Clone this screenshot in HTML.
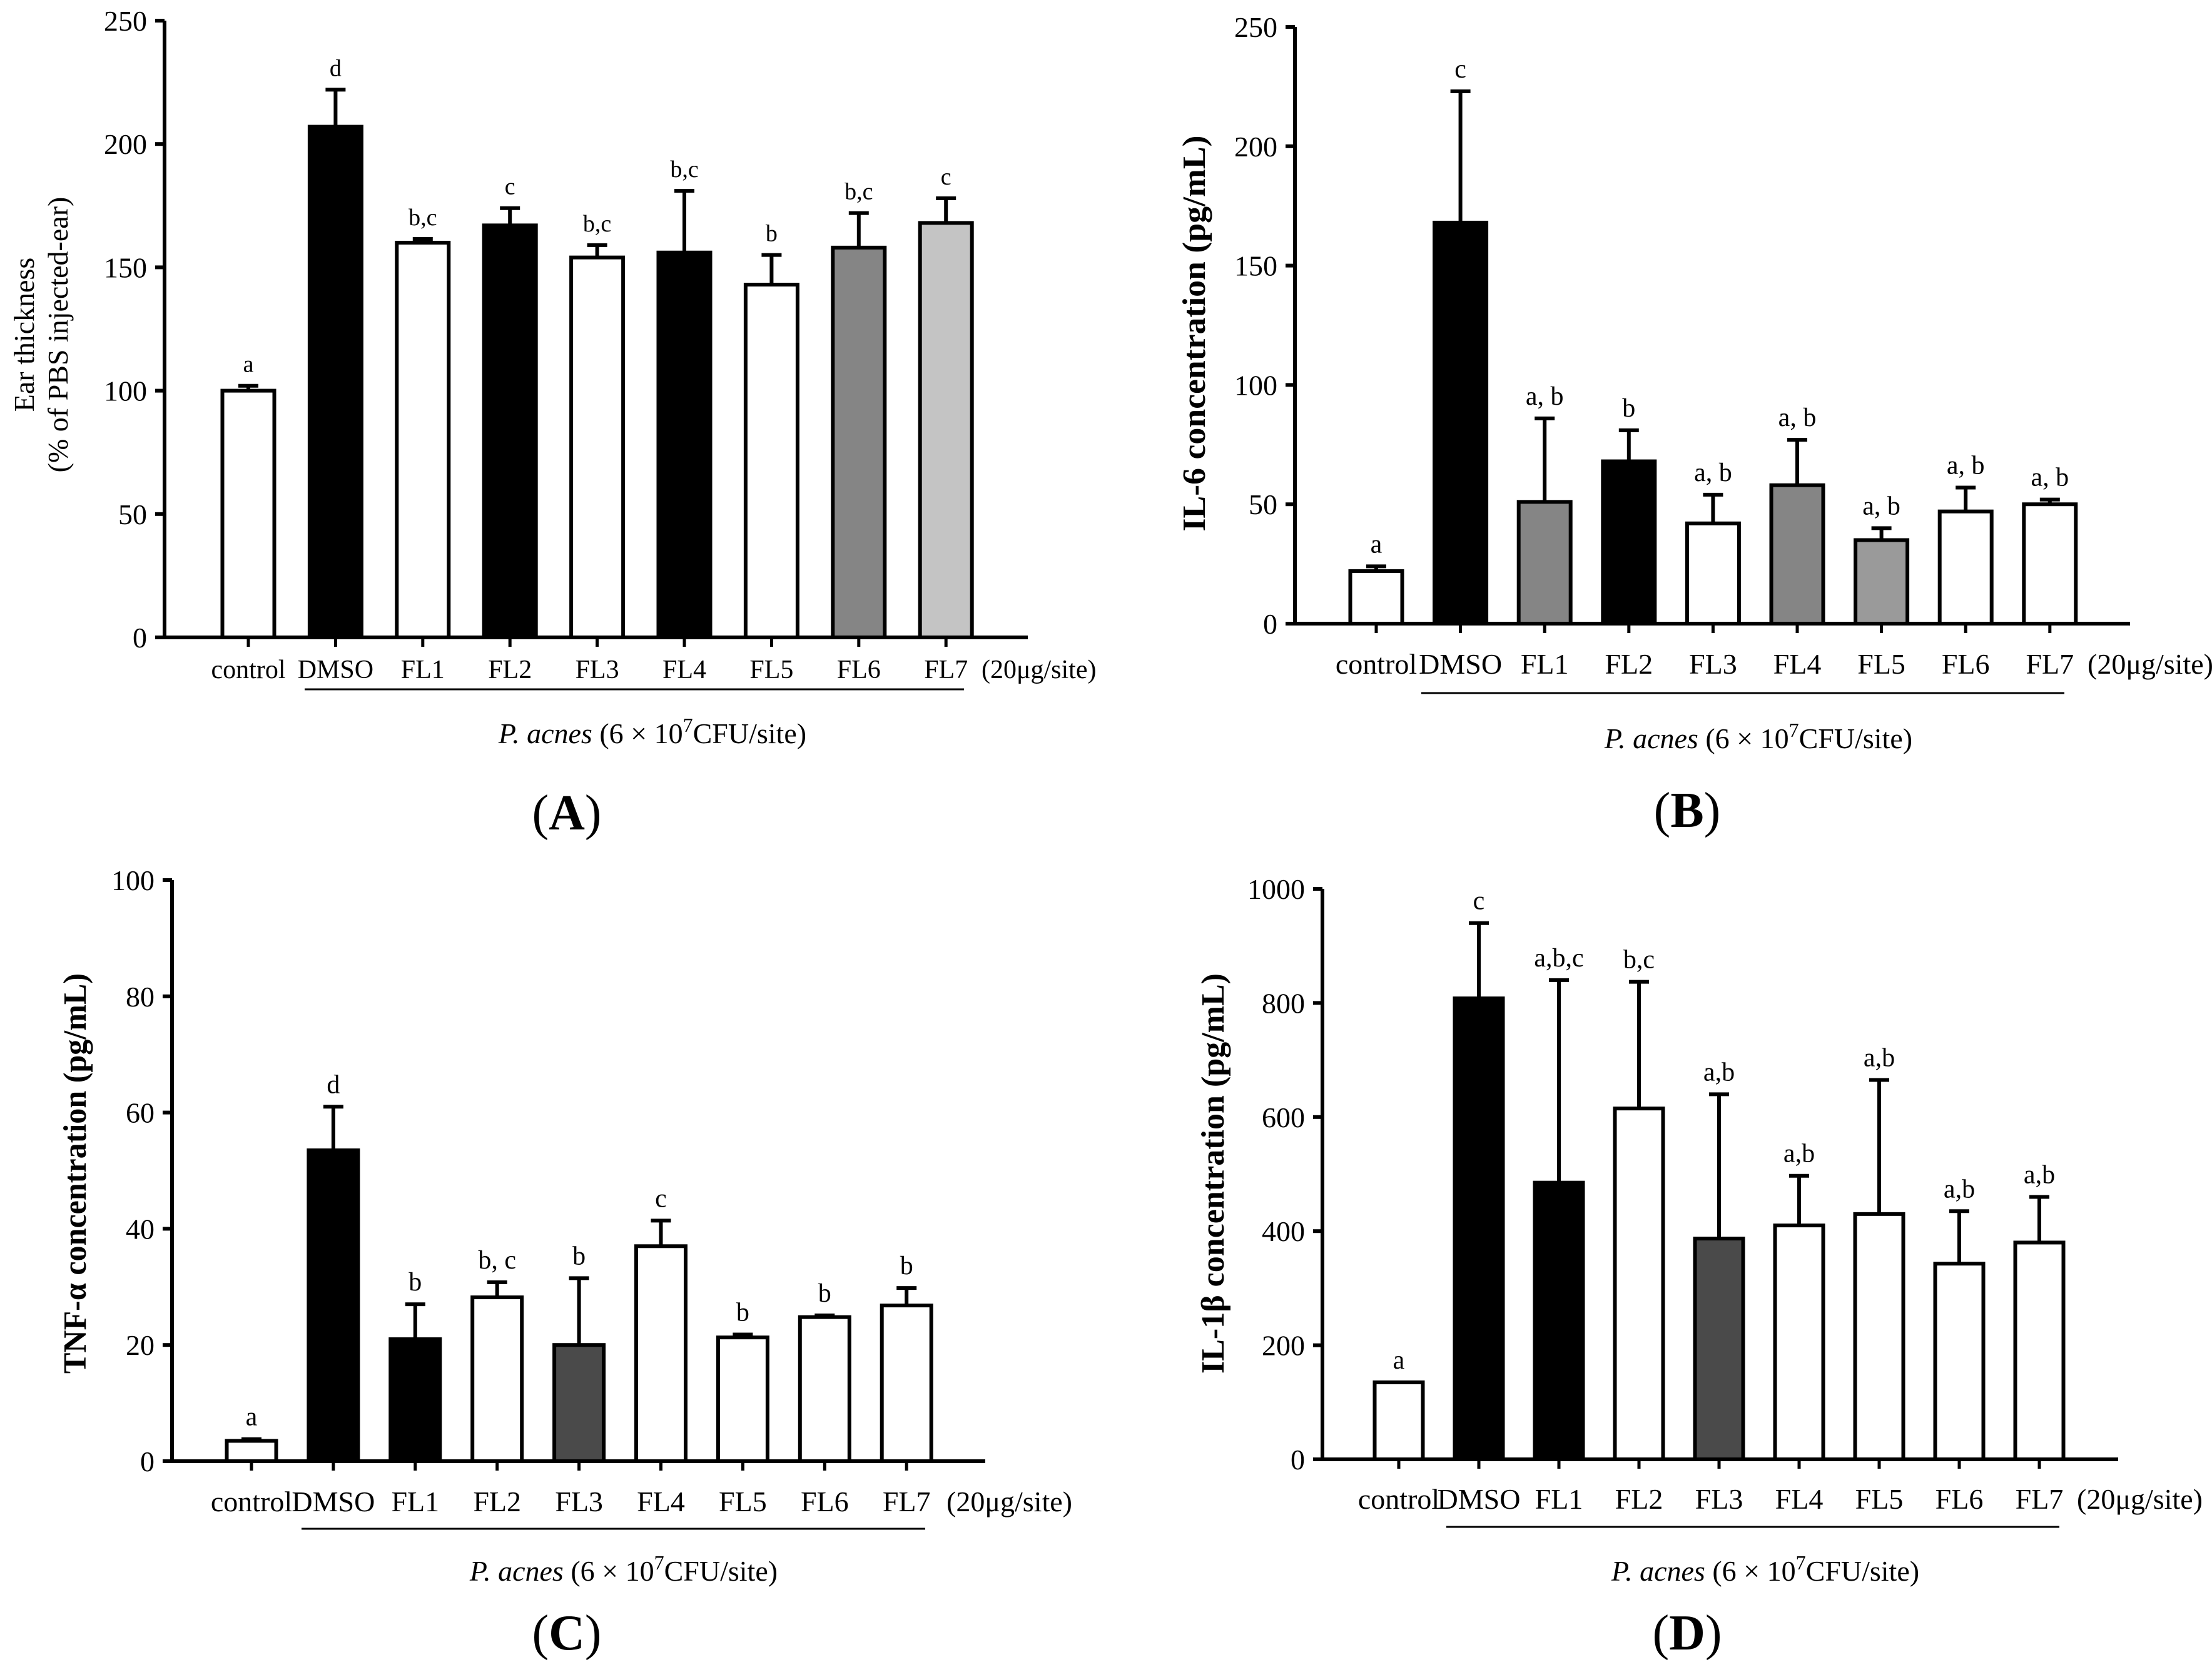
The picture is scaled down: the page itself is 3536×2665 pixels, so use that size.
<!DOCTYPE html>
<html><head><meta charset="utf-8"><style>
html,body{margin:0;padding:0;background:#fff;}
svg{display:block;font-family:"Liberation Serif",serif;}
</style></head>
<body>
<svg id="fig" xmlns="http://www.w3.org/2000/svg" width="3536" height="2665" viewBox="0 0 3536 2665"></svg>
<script>
const categories = ["control","DMSO","FL1","FL2","FL3","FL4","FL5","FL6","FL7"];
const valuesA = [100,207,160,167,154,156,143,158,168];
const errorsA = [2,15,1.5,7,5,25,12,14,10];
const lettersA = ["a","d","b,c","c","b,c","b,c","b","b,c","c"];
const fillsA = ["w","b","w","b","w","b","w","g","l"];
const ticksA = [0,50,100,150,200,250];
const valuesB = [22,168,51,68,42,58,35,47,50];
const errorsB = [2,55,35,13,12,19,5,10,2];
const lettersB = ["a","c","a, b","b","a, b","a, b","a, b","a, b","a, b"];
const fillsB = ["w","b","g","b","w","g","h","w","w"];
const ticksB = [0,50,100,150,200,250];
const valuesC = [3.5,53.5,21,28.2,20,37,21.3,24.8,26.8];
const errorsC = [0.3,7.5,6,2.6,11.5,4.4,0.5,0.3,3];
const lettersC = ["a","d","b","b, c","b","c","b","b","b"];
const fillsC = ["w","b","b","w","d","w","w","w","w"];
const ticksC = [0,20,40,60,80,100];
const valuesD = [135,808,485,615,387,410,430,343,380];
const errorsD = [0,132,355,222,253,87,235,92,80];
const lettersD = ["a","c","a,b,c","b,c","a,b","a,b","a,b","a,b","a,b"];
const fillsD = ["w","b","b","w","d","w","w","w","w"];
const ticksD = [0,200,400,600,800,1000];

const svg = document.getElementById('fig');
const NS = "http://www.w3.org/2000/svg";
function mk(tag, attrs, parent){const e=document.createElementNS(NS,tag);for(const k in attrs)e.setAttribute(k,attrs[k]);(parent||svg).appendChild(e);return e;}
const colorMap={w:"#fff",b:"#000",g:"#858585",l:"#c4c4c4",h:"#9a9a9a",d:"#4a4a4a"};

function panel(p){
  const g=mk('g',{});
  
  
  const ymax=p.ticks[p.ticks.length-1];
  const y=v=>p.y0-(v/ymax)*(p.y0-p.ytop);
  const x=i=>p.c0+i*p.step;
  for(let i=0;i<categories.length;i++){
    const v=p.values[i], e=p.errors[i];
    if(e>0){
      const eb=mk('path',{d:`M${x(i)} ${y(v)} V${y(v+e)} M${x(i)-16} ${y(v+e)} H${x(i)+16}`,stroke:"#000","stroke-width":6,fill:"none"},g);
      
      
    }
    const r=mk('rect',{x:x(i)-p.bw/2,y:y(v),width:p.bw,height:p.y0-y(v),fill:colorMap[p.fills[i]],stroke:"#000","stroke-width":6},g);
    
    
    const t=mk('text',{x:x(i),y:y(v+e)-22,"font-size":p.letFs,"text-anchor":"middle"},g);
    t.textContent=p.letters[i];
    
    
    mk('line',{x1:x(i),x2:x(i),y1:p.y0,y2:p.y0+15,stroke:"#000","stroke-width":5},g);
    const cl=mk('text',{x:x(i),y:p.labY+16,"font-size":p.labFs,"text-anchor":"middle"},g);
    cl.textContent=categories[i];
    
    
  }
  const ya=mk('line',{x1:p.ax,x2:p.ax,y1:p.ytop,y2:p.y0,stroke:"#000","stroke-width":6},g);
  
  
  const xa=mk('line',{x1:p.xs,x2:p.xe,y1:p.y0,y2:p.y0,stroke:"#000","stroke-width":6},g);
  
  
  for(const tv of p.ticks){
    mk('line',{x1:p.ax-15,x2:p.ax,y1:y(tv),y2:y(tv),stroke:"#000","stroke-width":6},g);
    const tl=mk('text',{x:p.ax-28,y:y(tv)+16,"font-size":46,"text-anchor":"end"},g);
    tl.textContent=tv;
    
    
  }
  const dose=mk('text',{x:p.doseX,y:p.labY+16,"font-size":p.labFs},g);
  dose.textContent="(20μg/site)";
  
  
  const ul=mk('line',{x1:p.ulx1,x2:p.ulx2,y1:p.uly,y2:p.uly,stroke:"#000","stroke-width":3},g);
  
  
  const pa=mk('text',{x:p.paX,y:p.paY+16,"font-size":46,"text-anchor":"middle"},g);
  pa.innerHTML='<tspan font-style="italic">P. acnes</tspan> (6 × 10<tspan dy="-18" font-size="32">7</tspan><tspan dy="18">CFU/site)</tspan>';
  
  
  const pl=mk('text',{x:p.plX,y:p.plY+27,"font-size":80,"text-anchor":"middle"},g);
  pl.innerHTML='(<tspan font-weight="bold">'+p.id+'</tspan>)';
  
  
  if(p.titleLines){
    p.titleLines.forEach((ln,k)=>{
      const tt=mk('text',{transform:`translate(${p.titleX[k]},${p.titleY}) rotate(-90)`,"font-size":46,"text-anchor":"middle"},g);
      tt.textContent=ln;
      
      
    });
  } else {
    const tt=mk('text',{transform:`translate(${p.titleX},${p.titleY}) rotate(-90)`,"font-size":52,"font-weight":"bold","text-anchor":"middle",textLength:p.titleLen,lengthAdjust:"spacingAndGlyphs"},g);
    tt.textContent=p.title;
    
    
  }
}

panel({id:"A",values:valuesA,errors:errorsA,letters:lettersA,fills:fillsA,ticks:ticksA,
  ax:263,ytop:33,y0:1019,xs:249,xe:1643,c0:397,step:139.4,bw:83,labY:1068,labFs:42,letFs:38,
  doseX:1569,ulx1:487,ulx2:1541,uly:1102,paX:1043,paY:1172,plX:906,plY:1299,
  titleLines:["Ear thickness","(% of PBS injected-ear)"],titleX:[54,108],titleY:535});
panel({id:"B",values:valuesB,errors:errorsB,letters:lettersB,fills:fillsB,ticks:ticksB,
  ax:2070,ytop:43,y0:997,xs:2057,xe:3405,c0:2200,step:134.6,bw:83,labY:1061,labFs:46,letFs:42,
  doseX:3337,ulx1:2272,ulx2:3300,uly:1108,paX:2811,paY:1180,plX:2697,plY:1295,
  title:"IL-6 concentration (pg/mL)",titleX:1926,titleLen:633,titleY:533});
panel({id:"C",values:valuesC,errors:errorsC,letters:lettersC,fills:fillsC,ticks:ticksC,
  ax:275,ytop:1407,y0:2336,xs:263,xe:1575,c0:402,step:130.9,bw:79,labY:2400,labFs:46,letFs:42,
  doseX:1513,ulx1:482,ulx2:1479,uly:2444,paX:997,paY:2511,plX:906,plY:2610,
  title:"TNF-α concentration (pg/mL)",titleX:137,titleLen:640,titleY:1876});
panel({id:"D",values:valuesD,errors:errorsD,letters:lettersD,fills:fillsD,ticks:ticksD,
  ax:2114,ytop:1421,y0:2333,xs:2102,xe:3386,c0:2236,step:128,bw:77,labY:2396,labFs:46,letFs:42,
  doseX:3320,ulx1:2312,ulx2:3292,uly:2441,paX:2822,paY:2511,plX:2697,plY:2610,
  title:"IL-1β concentration (pg/mL)",titleX:1956,titleLen:640,titleY:1876});
</script>
</body></html>
